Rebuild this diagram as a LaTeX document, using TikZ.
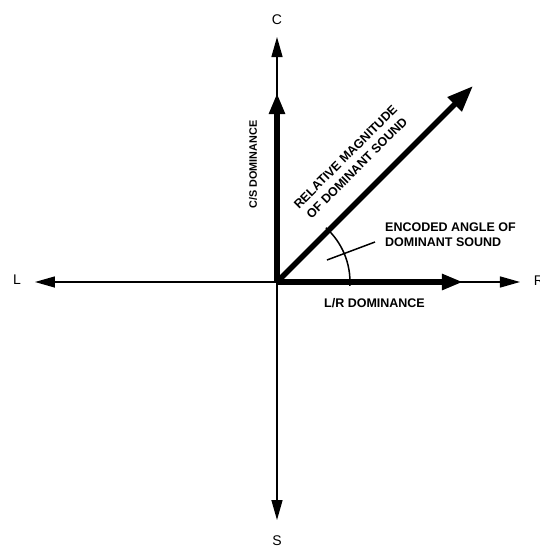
\documentclass[tikz,border=0pt]{standalone}
\usepackage{fontspec}
\setmainfont{Liberation Sans}
\usetikzlibrary{arrows.meta}
\begin{document}
\begin{tikzpicture}[x=1pt,y=1pt,
  thinax/.style={line width=1.5pt,-{Triangle[length=20pt,width=11pt]}},
  thickax/.style={line width=5.5pt,-{Triangle[length=21pt,width=15pt]}},
  diagax/.style={line width=5.5pt,-{Triangle[length=26pt,width=19pt]}},
  axlbl/.style={font=\fontsize{14}{16}\selectfont,inner sep=0pt},
  lbl/.style={font=\bfseries\fontsize{12.5}{15}\selectfont,inner sep=0pt},
  thinline/.style={line width=1.5pt}]
\useasboundingbox (-277,-265) rectangle (263,282);
\coordinate (O) at (0,0);
\coordinate (Ltip) at (-242,0);
\coordinate (Rtip) at (243,0);
\coordinate (Ctip) at (0,245);
\coordinate (Stip) at (0,-238);
\coordinate (Hthick) at (186,0);
\coordinate (Vthick) at (0,189);
\coordinate (Dtip) at (196,196);
\coordinate (Pa) at (50,22);
\coordinate (Pb) at (98,40);
% thin axes
\draw[thinax] (O) -- (Ltip);
\draw[thinax] (O) -- (Rtip);
\draw[thinax] (O) -- (Ctip);
\draw[thinax] (O) -- (Stip);
% thick vectors
\draw[thickax] (O) -- (Hthick);
\draw[thickax] (O) -- (Vthick);
\draw[diagax] (O) -- (Dtip);
% angle arc and leader
\draw[thinline] (-3:73) arc[start angle=-3,end angle=48,radius=73];
\draw[thinline] (Pa) -- (Pb);
% axis letters
\node[axlbl] (C) at (0,262) {C};
\node[axlbl] (L) at (-260,2) {L};
\node[axlbl] (R) at (262,1) {R};
\node[axlbl] (S) at (0,-259) {S};
% labels
\node[lbl] (lr) at (97.5,-21) {L/R DOMINANCE};
\node[lbl,rotate=90,font=\bfseries\fontsize{10.8}{13}\selectfont] (cs) at (-24,117.5) {C/S DOMINANCE};
\node[lbl,rotate=45,align=center,font=\bfseries\fontsize{12.5}{16}\selectfont] (rm) at (74.2,119.5) {RELATIVE MAGNITUDE\\OF DOMINANT SOUND};
\node[lbl,anchor=west,align=left] (enc) at (108,47) {ENCODED ANGLE OF\\DOMINANT SOUND};
\end{tikzpicture}
\end{document}
